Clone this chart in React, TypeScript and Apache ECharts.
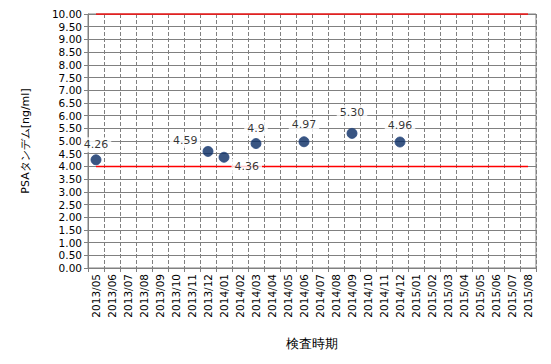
import React, { useEffect, useRef } from "react";
import * as echarts from "echarts";

const categories = [
  "2013/05", "2013/06", "2013/07", "2013/08", "2013/09", "2013/10", "2013/11", "2013/12",
  "2014/01", "2014/02", "2014/03", "2014/04", "2014/05", "2014/06", "2014/07", "2014/08",
  "2014/09", "2014/10", "2014/11", "2014/12", "2015/01", "2015/02", "2015/03", "2015/04",
  "2015/05", "2015/06", "2015/07", "2015/08",
];
const measuredMonths = ["2013/05", "2013/12", "2014/01", "2014/03", "2014/06", "2014/09", "2014/12"];
const measuredValues = [4.26, 4.59, 4.36, 4.9, 4.97, 5.3, 4.96];
const measuredLabels = ["4.26", "4.59", "4.36", "4.9", "4.97", "5.30", "4.96"];
const lowerLimit = 4.0;
const upperLimit = 10.0;

const labelPlacement: Record<string, any> = {
  "2013/05": { position: "top", offset: [0, 0] },
  "2013/12": { position: "left", offset: [0, -11] },
  "2014/01": { position: "right", offset: [0, 9] },
  "2014/03": { position: "top", offset: [0, 0] },
  "2014/06": { position: "top", offset: [0, -2] },
  "2014/09": { position: "top", offset: [0, -6] },
  "2014/12": { position: "top", offset: [0, -2] },
};

const FONT = "DejaVu Sans";

export default function App() {
  const ref = useRef<HTMLDivElement>(null);
  useEffect(() => {
    if (!ref.current) return;
    const chart = echarts.init(ref.current, null, { renderer: "svg" });
    const scatterData = measuredMonths.map((m, i) => ({
      value: [m, measuredValues[i]],
      label: {
        show: true,
        formatter: measuredLabels[i],
        distance: 2,
        ...labelPlacement[m],
      },
    }));
    chart.setOption({
      animation: false,
      textStyle: { fontFamily: FONT },
      grid: {
        left: 88,
        right: 15,
        top: 14,
        bottom: 96,
        show: true,
        borderColor: "#808080",
        borderWidth: 1,
      },
      xAxis: {
        type: "category",
        data: categories,
        boundaryGap: true,
        name: "検査時期",
        nameLocation: "middle",
        nameGap: 69,
        nameTextStyle: { fontSize: 13, color: "#000", fontFamily: FONT },
        axisLine: { show: true, lineStyle: { color: "#808080" } },
        axisTick: { show: true, interval: 0, length: 4, lineStyle: { color: "#808080" } },
        axisLabel: {
          interval: 0,
          rotate: 90,
          fontSize: 10.5,
          color: "#000",
          margin: 6,
          fontFamily: FONT,
        },
        splitLine: {
          show: true,
          interval: 0,
          lineStyle: { color: "#808080", type: [4, 2], width: 1 },
        },
      },
      yAxis: {
        type: "value",
        min: 0,
        max: 10,
        interval: 0.5,
        name: "PSAタンデム[ng/ml]",
        nameLocation: "middle",
        nameGap: 57,
        nameRotate: 90,
        nameTextStyle: { fontSize: 11, color: "#000", fontFamily: FONT },
        axisLine: { show: true, lineStyle: { color: "#808080" } },
        axisTick: { show: true, length: 4, lineStyle: { color: "#808080" } },
        axisLabel: {
          fontSize: 10.5,
          color: "#000",
          margin: 6,
          fontFamily: FONT,
          formatter: (v: number) => v.toFixed(2),
        },
        splitLine: { show: true, lineStyle: { color: "#808080", width: 1 } },
      },
      series: [
        {
          type: "line",
          data: categories.map(() => lowerLimit),
          symbol: "none",
          lineStyle: { color: "#ff0000", width: 1.5 },
          z: 3,
          silent: true,
        },
        {
          type: "line",
          data: categories.map(() => upperLimit),
          symbol: "none",
          lineStyle: { color: "#ff0000", width: 1.5 },
          z: 3,
          silent: true,
        },
        {
          type: "scatter",
          data: scatterData,
          symbol: "circle",
          symbolSize: 10,
          itemStyle: { color: "#082a63", borderColor: "#28497f", borderWidth: 1 },
          label: {
            show: true,
            fontSize: 11,
            color: "#000",
            fontFamily: FONT,
            backgroundColor: "#fff",
            padding: [2, 3],
          },
          z: 5,
        },
      ],
    });
    return () => chart.dispose();
  }, []);
  return (
    <div
      ref={ref}
      style={{ position: "fixed", left: 0, top: 0, width: 551, height: 364, background: "#fff" }}
    />
  );
}
